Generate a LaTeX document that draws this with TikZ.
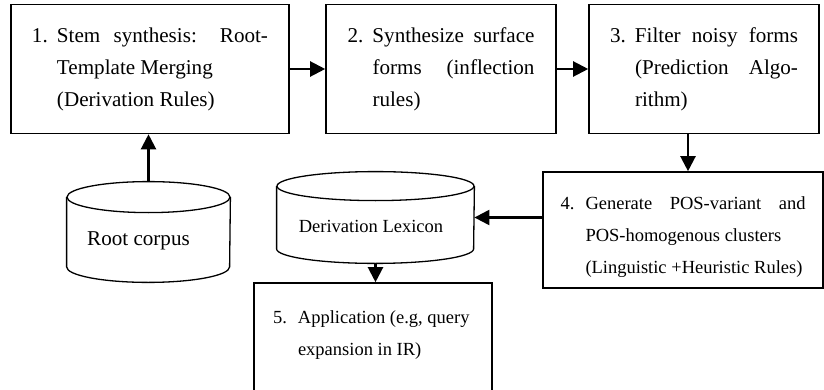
\documentclass[tikz,border=0pt]{standalone}
\usepackage{fontspec}
\setmainfont{Liberation Serif}
\usetikzlibrary{arrows.meta}
\tolerance=10000
\hyphenpenalty=10000

\begin{document}
\begin{tikzpicture}[x=0.5pt, y=-0.5pt,
  every node/.style={inner sep=0pt, font=\fontsize{10.55}{16}\selectfont},
  procbox/.style={draw, line width=0.8pt},
  smallbox/.style={procbox, font=\fontsize{9.25}{16}\selectfont},
  flow/.style={-{Triangle[length=7.5pt, width=7.5pt]}, line width=1.1pt},
  dbline/.style={line width=0.65pt}]
\useasboundingbox (0,0) rectangle (824,390);
\clip (0,0) rectangle (824,390);
% processing steps
\node[procbox, minimum width=139pt, minimum height=64.5pt] (stem) at (150,69) {\parbox{118pt}{\hangindent=12.5pt\hangafter=1 \makebox[12.5pt][l]{1.}Stem synthesis: Root-\linebreak Template Merging\newline (Derivation Rules)}};
\node[procbox, minimum width=115pt, minimum height=64.5pt] (surf) at (441,69) {\parbox{93.5pt}{\hangindent=12.5pt\hangafter=1 \makebox[12.5pt][l]{2.}Synthesize surface\linebreak forms (inflection\linebreak rules)}};
\node[procbox, minimum width=115pt, minimum height=64.5pt] (filt) at (704,69) {\parbox{94pt}{\hangindent=12.5pt\hangafter=1 \makebox[12.5pt][l]{3.}Filter noisy forms\linebreak (Prediction Algo-\linebreak rithm)}};
\node[smallbox, minimum width=140pt, minimum height=58pt] (clus) at (683,230) {\parbox{122.5pt}{\hangindent=12.5pt\hangafter=1 \makebox[12.5pt][l]{\rule{0pt}{13.85pt}4.}Generate POS-variant and\linebreak POS-homogenous clusters\newline (Linguistic +Heuristic Rules)}};
\node[smallbox, minimum width=119pt, minimum height=66.5pt] (appl) at (373,349.5) {\parbox{100pt}{\hangindent=12.5pt\hangafter=1 \makebox[12.5pt][l]{5.}Application (e.g, query\newline expansion in IR)\newline\mbox{}}};
% databases
\node[minimum width=81.5pt, minimum height=50pt] (rootdb) at (148.5,232) {};
\draw[dbline] ([yshift=-7.75pt]rootdb.north west) -- ([yshift=7.75pt]rootdb.south west) arc[start angle=180, end angle=360, x radius=40.75pt, y radius=7.75pt] -- ([yshift=-7.75pt]rootdb.north east);
\draw[dbline] ([yshift=-7.75pt]rootdb.north) ellipse[x radius=40.75pt, y radius=7.75pt];
\node (rootlbl) at (138.5,241) {Root corpus};
\node[minimum width=98.5pt, minimum height=45.5pt] (lexdb) at (375.5,217.5) {};
\draw[dbline] ([yshift=-7.25pt]lexdb.north west) -- ([yshift=7.25pt]lexdb.south west) arc[start angle=180, end angle=360, x radius=49.25pt, y radius=7.25pt] -- ([yshift=-7.25pt]lexdb.north east);
\draw[dbline] ([yshift=-7.25pt]lexdb.north) ellipse[x radius=49.25pt, y radius=7.25pt];
\node[font=\fontsize{9.25}{16}\selectfont] (lexlbl) at (371,226.7) {Derivation Lexicon};
% arrows
\draw[flow] (stem) -- (surf);
\draw[flow] (surf) -- (filt);
\draw[flow] ([xshift=-8pt]filt.south) -- ([xshift=-8pt]filt.south |- clus.north);
\draw[flow] (clus.west |- lexdb.east) -- (lexdb.east);
\draw[flow] (lexdb.south) -- (lexdb.south |- appl.north);
\draw[flow] (rootdb.north) -- (rootdb.north |- stem.south);
\end{tikzpicture}
\end{document}
